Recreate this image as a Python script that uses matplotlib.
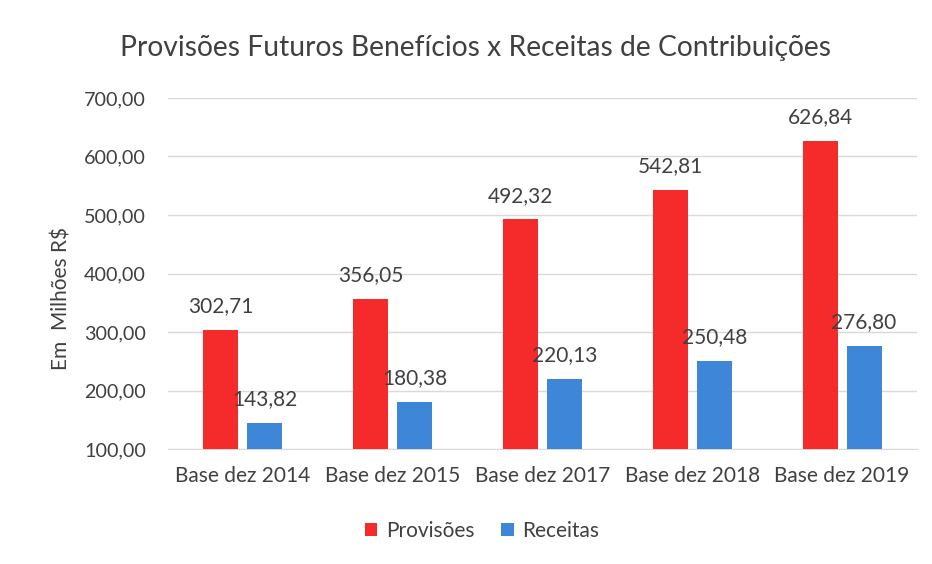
import matplotlib
matplotlib.use("Agg")
import matplotlib.pyplot as plt
import numpy as np

categories = ["Base dez 2014", "Base dez 2015", "Base dez 2017", "Base dez 2018", "Base dez 2019"]
provisoes = [302.71, 356.05, 492.32, 542.81, 626.84]
receitas = [143.82, 180.38, 220.13, 250.48, 276.80]
yticks = [100, 200, 300, 400, 500, 600, 700]

plt.rcParams['font.family'] = ['Lato', 'DejaVu Sans']
TXT = "#404040"
RED = "#F52A2A"
BLUE = "#3D86D8"

W, H = 932, 564
fig = plt.figure(figsize=(W/100, H/100), dpi=100)
ax = fig.add_axes([168/W, 1-449/H, (917-168)/W, (449-98)/H])

x = np.arange(len(categories))
bw = 0.234
off = 0.147
base = 100
ax.bar(x - off, np.array(provisoes) - base, bw, bottom=base, color=RED, label="Provisões", zorder=3)
ax.bar(x + off, np.array(receitas) - base, bw, bottom=base, color=BLUE, label="Receitas", zorder=3)

def fmt(v):
    return f"{v:.2f}".replace(".", ",")

for i in range(len(categories)):
    ax.annotate(fmt(provisoes[i]), (x[i]-off, provisoes[i]), xytext=(0, 10), textcoords="offset points",
                ha="center", va="bottom", fontsize=15, color=TXT)
    ax.annotate(fmt(receitas[i]), (x[i]+off, receitas[i]), xytext=(0, 10), textcoords="offset points",
                ha="center", va="bottom", fontsize=15, color=TXT)

ax.set_xlim(-0.5, len(categories)-0.5)
ax.set_ylim(100, 700)
ax.set_yticks(yticks)
ax.set_yticklabels([fmt(v) for v in yticks], fontsize=14.2, color=TXT)
ax.set_xticks(x)
ax.set_xticklabels(categories, fontsize=15, color=TXT)
ax.tick_params(axis='y', length=0, pad=16)
ax.tick_params(axis='x', length=0, pad=12)
ax.grid(axis='y', color="#D9D9D9", linewidth=1, zorder=0)
for s in ["top", "right", "left"]:
    ax.spines[s].set_visible(False)
ax.spines["bottom"].set_color("#D9D9D9")

fig.text(61/W, 1-298/H, "Em  Milhões R$", rotation=90, ha="center", va="center", fontsize=15, color=TXT)
fig.text(476/W, 1-48/H, "Provisões Futuros Benefícios x Receitas de Contribuições", ha="center", va="center",
         fontsize=20.3, color=TXT)
fig.legend(loc="center", bbox_to_anchor=(482/W, 1-531/H), ncol=2, frameon=False, fontsize=15,
           handlelength=0.6, handleheight=0.6, columnspacing=1.3, handletextpad=0.4, labelcolor=TXT)

fig.savefig("out.png", dpi=100)
